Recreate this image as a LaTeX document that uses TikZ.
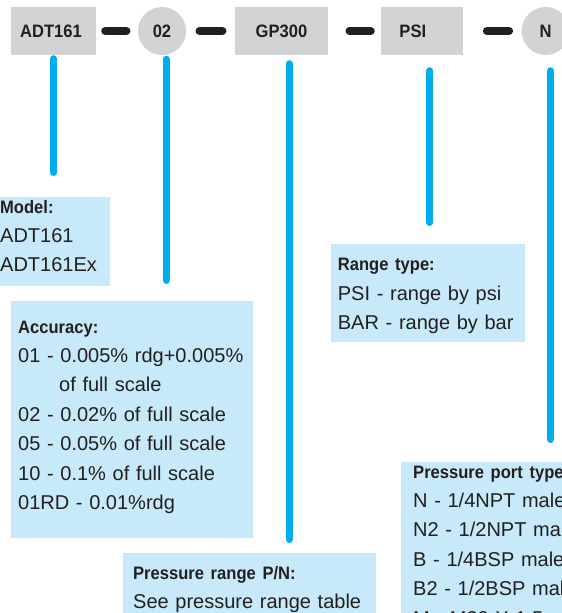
\documentclass[tikz,border=0pt]{standalone}
\usepackage{fontspec}
\setmainfont{Liberation Sans}
\newfontfamily\condbf[FakeStretch=0.92]{Liberation Sans}
\definecolor{codegray}{HTML}{D1D3D4}
\definecolor{notefill}{HTML}{C7E9F9}
\definecolor{leadblue}{HTML}{00AEEF}
\definecolor{ink}{HTML}{231F20}
\newcommand{\notehead}[1]{{\condbf\bfseries\fontsize{18}{29.4}\selectfont\strut #1}}
\tikzset{
  codebox/.style={fill=codegray, minimum height=48pt, inner sep=0pt, text=ink,
    font=\condbf\bfseries\fontsize{18}{20}\selectfont},
  codering/.style={codebox, circle, minimum size=48pt},
  joint/.style={draw=ink, line width=8pt, line cap=round},
  lead/.style={draw=leadblue, line width=7pt, line cap=round},
  notebox/.style={fill=notefill, anchor=north west, inner sep=0pt},
  notetext/.style={anchor=north west, inner sep=0pt, text width=240pt, align=left,
    text=ink, font=\fontsize{20}{29.4}\selectfont},
}
\begin{document}
\begin{tikzpicture}[x=1pt,y=-1pt]
      \useasboundingbox (0,0) rectangle (562,613);
      \clip (0,0) rectangle (562,613);
      % part number
      \node[codebox, minimum width=85pt] (model) at (53.5,31) {ADT161\kern5pt};
      \node[codering] (accuracy) at (162,31) {02};
      \node[codebox, minimum width=92.4pt] (range) at (281.5,31) {GP300};
      \node[codebox, minimum width=81.7pt] (unit) at (421.8,31) {PSI\kern18pt};
      \node[codering] (port) at (545.7,31) {N};
      \draw[joint, shorten <=9pt, shorten >=11.3pt] (model.east) -- (accuracy.west);
      \draw[joint, shorten <=13.3pt, shorten >=12.6pt] (accuracy.east) -- (range.west);
      \draw[joint, shorten <=21.6pt, shorten >=10pt] (range.east) -- (unit.west);
      \draw[joint, shorten <=24pt, shorten >=12.4pt] (unit.east) -- (port.west);
      % notes
      \node[notebox, minimum width=110pt, minimum height=89pt] (modelbox) at (0,197) {};
      \node[notebox, minimum width=242pt, minimum height=237pt] (accbox) at (11,301) {};
      \node[notebox, minimum width=253pt, minimum height=70pt] (rangebox) at (123,553) {};
      \node[notebox, minimum width=194pt, minimum height=98pt] (unitbox) at (331,244) {};
      \node[notebox, minimum width=170pt, minimum height=160pt] (portbox) at (401,462) {};
      \node[notetext] (modeltext) at (0,192.4)
        {\notehead{Model:}\\ADT161\\ADT161Ex};
      \node[notetext] (acctext) at (18,312.4)
        {\notehead{Accuracy:}\\01 - 0.005\% rdg+0.005\%\\\hspace*{41pt}of full scale\\
         02 - 0.02\% of full scale\\05 - 0.05\% of full scale\\
         10 - 0.1\% of full scale\\01RD - 0.01\%rdg};
      \node[notetext] (rangetext) at (133,558.4)
        {\notehead{Pressure range P/N:}\\See pressure range table};
      \node[notetext] (unittext) at (337.7,250.1)
        {\notehead{Range type:}\\PSI - range by psi\\BAR - range by bar};
      \node[notetext] (porttext) at (413,457.4)
        {\notehead{Pressure port type:}\\N - 1/4NPT male\\N2 - 1/2NPT male\\
         B - 1/4BSP male\\B2 - 1/2BSP male\\M - M20 X 1.5 male};
      % leads
      \draw[lead, shorten <=3.5pt, shorten >=24.5pt] (model.south) -- (model.south |- modelbox.north);
      \draw[lead, shorten <=4pt, shorten >=20.5pt] ([xshift=4pt]accuracy.south) -- ([xshift=4pt]accuracy.south |- accbox.north);
      \draw[lead, shorten <=8.5pt, shorten >=13.5pt] ([xshift=7.5pt]range.south) -- ([xshift=7.5pt]range.south |- rangebox.north);
      \draw[lead, shorten <=15.5pt, shorten >=21.5pt] ([xshift=8pt]unit.south) -- ([xshift=8pt]unit.south |- unitbox.north);
      \draw[lead, shorten <=15.5pt, shorten >=22.5pt] ([xshift=5pt]port.south) -- ([xshift=5pt]port.south |- portbox.north);
    \end{tikzpicture}
\end{document}
